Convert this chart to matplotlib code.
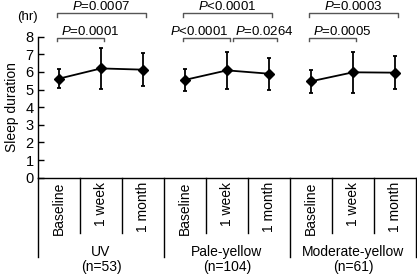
import numpy as np
import matplotlib
matplotlib.use('Agg')
import matplotlib.pyplot as plt
import matplotlib.transforms as mtransforms

plt.rcParams['font.family'] = ['Liberation Sans', 'DejaVu Sans']
plt.rcParams['mathtext.fontset'] = 'custom'
plt.rcParams['mathtext.rm'] = 'Liberation Sans'
plt.rcParams['mathtext.it'] = 'Liberation Sans:italic'

# data
groups = ['UV', 'Pale-yellow', 'Moderate-yellow']
group_n = ['(n=53)', '(n=104)', '(n=61)']
times = ['Baseline', '1 week', '1 month']
means = [[5.62, 6.20, 6.13],
         [5.55, 6.09, 5.90],
         [5.47, 5.98, 5.96]]
errs = [[0.55, 1.18, 0.95],
        [0.62, 1.07, 0.90],
        [0.65, 1.17, 0.94]]
# comparisons: (group, time a, time b, label)
comparisons = [(0, 0, 2, '$P$=0.0007'), (0, 0, 1, '$P$=0.0001'),
               (1, 0, 2, '$P$<0.0001'), (1, 0, 1, '$P$<0.0001'), (1, 1, 2, '$P$=0.0264'),
               (2, 0, 2, '$P$=0.0003'), (2, 0, 1, '$P$=0.0005')]

fig = plt.figure(figsize=(4.17, 2.75), dpi=100)
ax = fig.add_axes([38 / 417, 97.3 / 275, 378 / 417, 141 / 275])

nt = len(times)
for g in range(len(groups)):
    x = np.arange(nt) + g * nt
    ax.errorbar(x, means[g], yerr=errs[g], color='black', marker='D', ms=5,
                lw=1.3, elinewidth=1.3, capsize=1.6, capthick=1.3, clip_on=False)

ax.set_xlim(-0.5, len(groups) * nt - 0.5)
ax.set_ylim(0, 8)
ax.set_yticks(range(0, 9))
ax.tick_params(axis='y', direction='in', length=4, width=1, labelsize=10.5, pad=3)
ax.set_xticks([])
for s in ['top', 'right']:
    ax.spines[s].set_visible(False)
ax.spines['left'].set_linewidth(1)
ax.spines['bottom'].set_linewidth(1)
ax.set_ylabel('Sleep duration', fontsize=10, labelpad=5)
ax.text(-0.027, 1.14, '(hr)', transform=ax.transAxes, ha='center', va='center',
        fontsize=9.5)

# brackets above
bcol = '#555555'
for g, a, b, lab in comparisons:
    xa = g * nt + a - 0.05
    xb = g * nt + b + 0.08
    top = (b - a == 2)
    if g == 1 and a == 1:
        xa = g * nt + a + 0.15
        xb = g * nt + b + 0.2
    y = 9.33 if top else 7.94
    ax.plot([xa, xa, xb, xb], [y - 0.2, y, y, y - 0.2], color=bcol, lw=1,
            clip_on=False)
    xt = (xa + xb) / 2
    if not top:
        xt += -0.17 if (g == 1 and a == 0) else 0.22
    ax.text(xt, y + 0.17, lab, ha='center', va='baseline', fontsize=9.5)

# category table below the axis
trans = mtransforms.blended_transform_factory(ax.transData, ax.transAxes)
for i in range(len(groups) * nt + 1):
    xb = i - 0.5
    yb = -0.562 if i % nt == 0 else -0.392
    ax.plot([xb, xb], [0, yb], color='black', lw=1, transform=trans, clip_on=False)
for g in range(len(groups)):
    for t in range(nt):
        ax.text(g * nt + t, -0.03, times[t], rotation=90, ha='center', va='top',
                fontsize=10, transform=trans)
    ax.text(g * nt + 1, -0.527, groups[g], ha='center', va='center', fontsize=10,
            transform=trans)
    ax.text(g * nt + 1, -0.633, group_n[g], ha='center', va='center', fontsize=10,
            transform=trans)

fig.savefig('out.png', dpi=100)
